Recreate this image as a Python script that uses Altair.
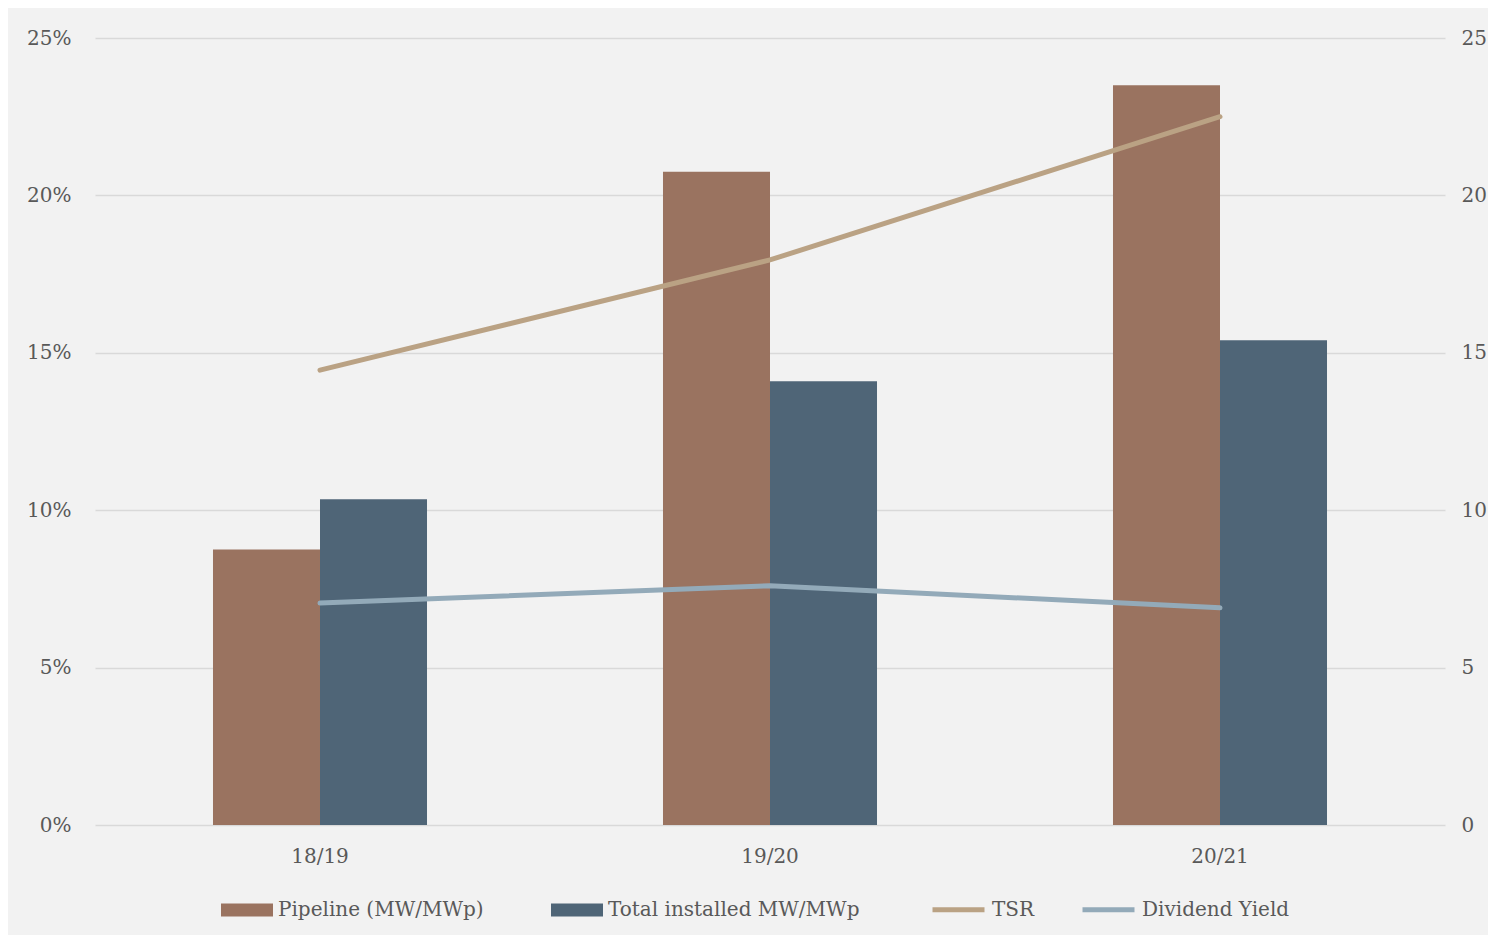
import altair as alt
import pandas as pd

years = ["18/19", "19/20", "20/21"]
pipeline = [8.75, 20.75, 23.5]
installed = [10.35, 14.1, 15.4]
tsr = [14.45, 17.95, 22.5]
div_yield = [7.05, 7.6, 6.9]

bar_series = ["Pipeline (MW/MWp)", "Total installed MW/MWp"]
line_series = ["TSR", "Dividend Yield"]
bar_colors = ["#9a7360", "#4f6577"]
line_colors = ["#baa284", "#93aab9"]

bars_df = pd.DataFrame(
    [{"year": y, "series": bar_series[0], "value": v} for y, v in zip(years, pipeline)]
    + [{"year": y, "series": bar_series[1], "value": v} for y, v in zip(years, installed)]
)
lines_df = pd.DataFrame(
    [{"year": y, "series": line_series[0], "value": v} for y, v in zip(years, tsr)]
    + [{"year": y, "series": line_series[1], "value": v} for y, v in zip(years, div_yield)]
)

FONT = "DejaVu Serif"
TXT = "#595959"
FS = 20

xscale = alt.Scale(domain=years, paddingInner=0.5244, paddingOuter=0.2622)

bar_legend = alt.Legend(
    title=None, orient="none", legendX=126, legendY=846,
    direction="horizontal", columns=2,
    symbolType="M-1,-0.25H1V0.25H-1Z", symbolSize=2704, symbolStrokeWidth=0,
    labelFont=FONT, labelFontSize=FS, labelColor=TXT, labelOffset=5, labelLimit=0,
    columnPadding=67, symbolOpacity=1,
)
line_legend = alt.Legend(
    title=None, orient="none", legendX=835, legendY=843,
    direction="horizontal", columns=2,
    symbolType="stroke", symbolSize=2704, symbolStrokeWidth=5,
    labelFont=FONT, labelFontSize=FS, labelColor=TXT, labelOffset=5, labelLimit=0,
    columnPadding=37, symbolOpacity=1,
)

bars = (
    alt.Chart(bars_df)
    .mark_bar()
    .encode(
        x=alt.X("year:N", scale=xscale, sort=years, title=None,
                axis=alt.Axis(labelAngle=0, domain=False, ticks=False, labelPadding=21,
                              labelFont=FONT, labelFontSize=FS, labelColor=TXT)),
        xOffset=alt.XOffset("series:N", sort=bar_series, scale=alt.Scale(paddingInner=0, paddingOuter=0)),
        y=alt.Y("value:Q", scale=alt.Scale(domain=[0, 25]), title=None,
                axis=alt.Axis(orient="right", values=[0, 5, 10, 15, 20, 25], grid=False,
                              domain=False, ticks=False, labelPadding=16,
                              labelFont=FONT, labelFontSize=FS, labelColor=TXT)),
        color=alt.Color("series:N", scale=alt.Scale(domain=bar_series, range=bar_colors),
                        sort=bar_series, legend=bar_legend),
    )
)

lines = (
    alt.Chart(lines_df)
    .mark_line(strokeWidth=5, strokeCap="round")
    .encode(
        x=alt.X("year:N", scale=xscale, sort=years, title=None),
        y=alt.Y("value:Q", scale=alt.Scale(domain=[0, 25]), title=None,
                axis=alt.Axis(orient="left", values=[0, 5, 10, 15, 20, 25],
                              labelExpr="datum.value + '%'", grid=True,
                              gridColor="#d9d9d9", gridWidth=1.5,
                              domain=False, ticks=False, labelPadding=24,
                              labelFont=FONT, labelFontSize=FS, labelColor=TXT)),
        color=alt.Color("series:N", scale=alt.Scale(domain=line_series, range=line_colors),
                        sort=line_series, legend=line_legend),
    )
)

chart = (
    alt.layer(bars, lines)
    .resolve_scale(y="independent", color="independent")
    .properties(
        width=1350,
        height=787,
        background="#f2f2f2",
        padding={"left": 87, "top": 30, "right": 43, "bottom": 110},
        autosize=alt.AutoSizeParams(type="none"),
    )
    .configure_view(stroke=None)
)

chart.save("out.html", embed_options={"renderer": "svg", "actions": False})
